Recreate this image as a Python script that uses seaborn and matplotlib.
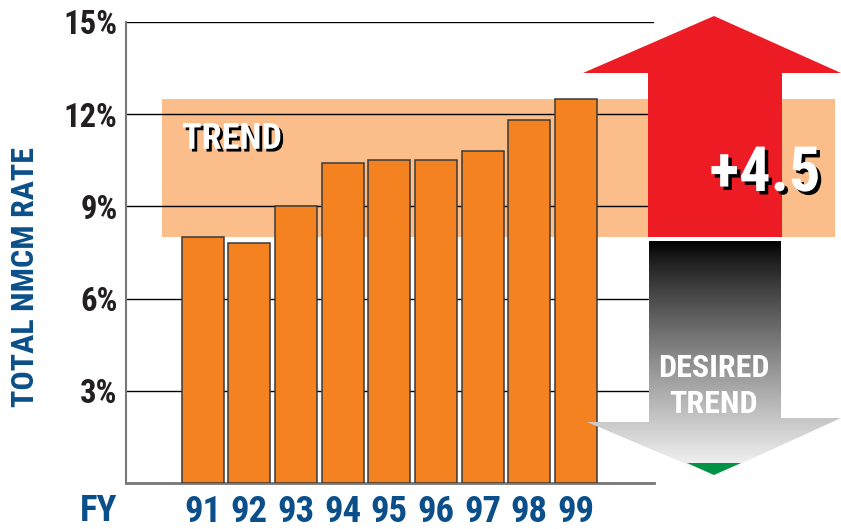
import matplotlib
matplotlib.use('Agg')
import matplotlib.pyplot as plt
import matplotlib.patheffects as pe
from matplotlib.patches import Polygon, Rectangle
import numpy as np
import pandas as pd
import seaborn as sns

# Chart data
years = ['91', '92', '93', '94', '95', '96', '97', '98', '99']
nmcm_rate = [8.0, 7.8, 9.0, 10.4, 10.5, 10.5, 10.8, 11.8, 12.5]
y_ticks = [3, 6, 9, 12, 15]
y_tick_labels = ['3%', '6%', '9%', '12%', '15%']

df = pd.DataFrame({'FY': years, 'Rate': nmcm_rate})

sns.set_style('white')
plt.rcParams['font.family'] = ['Roboto Condensed', 'DejaVu Sans']
plt.rcParams['font.weight'] = 'bold'

BLUE = '#0B4F8A'
ORANGE = '#F58220'
BAND = '#FBBD8A'

W, H = 841, 529
fig = plt.figure(figsize=(W / 100, H / 100), dpi=100)

# main axes in pixel placement
ax_l, ax_r, ax_t, ax_b = 126, 654, 22, 483
ax = fig.add_axes([ax_l / W, 1 - ax_b / H, (ax_r - ax_l) / W, (ax_b - ax_t) / H])
ax.set_facecolor('none')
ax.set_zorder(2)

sns.barplot(data=df, x='FY', y='Rate', color=ORANGE, saturation=1, width=0.9,
            edgecolor='#3a3a3a', linewidth=1.1, ax=ax, zorder=3)

xmin, xmax = -1.64, 9.67
ax.set_xlim(xmin, xmax)
ax.set_ylim(0, 15)

# trend band from first to last year value
step = (ax_r - ax_l) / (xmax - xmin)
band_x0 = xmin + (162 - ax_l) / step
band_x1 = xmin + (835 - ax_l) / step
ax.add_patch(Rectangle((band_x0, nmcm_rate[0]), band_x1 - band_x0,
                       nmcm_rate[-1] - nmcm_rate[0], facecolor=BAND,
                       edgecolor='none', clip_on=False, zorder=0.2))

ax.set_yticks(y_ticks)
ax.set_yticklabels(y_tick_labels)
ax.grid(axis='y', color='black', linewidth=1)
ax.set_axisbelow(True)
ax.tick_params(axis='y', length=0, pad=6, labelsize=23.5, labelcolor='#231f20')
ax.tick_params(axis='x', length=0, pad=8, labelsize=26.5, labelcolor=BLUE)
ax.set_xlabel('')
ax.set_ylabel('')
for s in ['top', 'right']:
    ax.spines[s].set_visible(False)
ax.spines['left'].set_color('#777777')
ax.spines['left'].set_linewidth(1.5)
ax.spines['bottom'].set_color('#777777')
ax.spines['bottom'].set_linewidth(2)

ax.text(band_x0 + 0.43, 11.2, 'TREND', color='white', fontsize=26,
        fontweight='bold', ha='left', va='center', zorder=4,
        path_effects=[pe.SimplePatchShadow(offset=(2, -2), shadow_rgbFace='black', alpha=1),
                      pe.Normal()])

fig.text(25 / W, 1 - 277 / H, 'TOTAL NMCM RATE', rotation=90, color=BLUE,
         fontsize=23, fontweight='bold', ha='center', va='center')
fig.text(99 / W, 1 - 511 / H, 'FY', color=BLUE, fontsize=26.5,
         fontweight='bold', ha='center', va='center')

# overlay for arrows in pixel space
ov = fig.add_axes([0, 0, 1, 1])
ov.set_xlim(0, W)
ov.set_ylim(H, 0)
ov.axis('off')
ov.set_facecolor('none')
ov.set_zorder(3)

up = Polygon([(648, 237), (648, 73), (583, 73), (714, 16), (841, 73),
              (782, 73), (782, 237)], closed=True, facecolor='#ED1C24',
             edgecolor='none')
ov.add_patch(up)

down = Polygon([(649, 241), (781, 241), (781, 418), (841, 418), (714, 476),
                (587, 422), (649, 422)], closed=True, facecolor='none',
               edgecolor='none')
ov.add_patch(down)
grad = np.linspace(0, 1, 256).reshape(-1, 1) ** 0.85
im = ov.imshow(grad, cmap='gray', vmin=0, vmax=1.02, aspect='auto',
               extent=(587, 841, 476, 241), origin='upper', zorder=1)
im.set_clip_path(down)

ov.add_patch(Polygon([(687, 463), (741, 463), (714, 475)], closed=True,
                     facecolor='#009245', edgecolor='none', zorder=2))

ov.text(765, 174, '+4.5', color='white', fontsize=45, fontweight='bold',
        ha='center', va='center', zorder=3,
        path_effects=[pe.SimplePatchShadow(offset=(2.5, -2.5), shadow_rgbFace='black', alpha=1),
                      pe.Normal()])
ov.text(714, 368, 'DESIRED', color='white', fontsize=23, fontweight='bold',
        ha='center', va='center', zorder=3)
ov.text(714, 404, 'TREND', color='white', fontsize=23, fontweight='bold',
        ha='center', va='center', zorder=3)

fig.savefig('out.png', dpi=100)
